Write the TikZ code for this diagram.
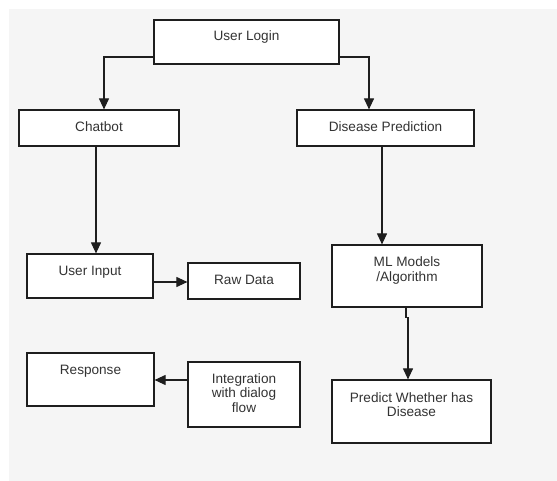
\documentclass[tikz,border=0pt]{standalone}
\usepackage{fontspec}
\setmainfont{Liberation Sans}
\usepackage{xcolor}
\usetikzlibrary{arrows.meta,positioning,calc}
\definecolor{cBack}{RGB}{245,245,245}
\definecolor{cLine}{RGB}{30,30,30}
\definecolor{cText}{RGB}{51,51,51}
\tikzset{
  box/.style={draw=cLine, fill=white, line width=1.2pt, inner sep=0pt,
              align=center, text=cText, text depth=3pt,
              font=\fontsize{13.6}{14.7}\selectfont},
  arr/.style={-{Triangle[length=11pt,width=10pt]}, draw=cLine, line width=1.1pt},
}

\begin{document}
\begin{tikzpicture}[x=1pt, y=-1pt]
  \useasboundingbox (0,0) rectangle (557,481);
  \fill[cBack] (9,9) rectangle (557,481);

  \node[box, minimum width=185pt, minimum height=44pt, text depth=12pt] (ul) at (246.5,42) {User Login};
  \node[box, minimum width=160pt, minimum height=36pt] (cb) at (99,128) {Chatbot};
  \node[box, minimum width=177pt, minimum height=36pt] (dp) at (385.5,128) {Disease Prediction};

  \node[box, minimum width=126pt, minimum height=44pt, text depth=10pt] (ui) at (90,276) {User Input};
  \node[box, minimum width=112pt, minimum height=36pt] (rd) at (244,281) {Raw Data};
  \node[box, minimum width=150pt, minimum height=62pt, text depth=14pt] (ml) at (407,276) {ML Models\\/Algorithm};

  \node[box, minimum width=127pt, minimum height=53pt, text depth=19pt] (rs) at (90.5,379.5) {Response};
  \node[box, minimum width=112pt, minimum height=65pt] (ig) at (244,394.5) {Integration\\with dialog\\flow};
  \node[box, minimum width=159pt, minimum height=63pt, text depth=14pt] (pr) at (411.5,411.5) {Predict Whether has\\Disease};

  \draw[arr] ([yshift=-15pt]ul.west) -| ([xshift=5pt]cb.north);
  \draw[arr] ([yshift=-15pt]ul.east) -| ([xshift=-16.5pt]dp.north);
  \draw[arr] ([xshift=-3pt]cb.south) -- ([xshift=-3pt]cb.south |- ui.north);
  \draw[arr] ([xshift=-3.5pt]dp.south) -- ([xshift=-3.5pt]dp.south |- ml.north);
  \draw[arr] ([yshift=-6pt]ui.east) -- ([yshift=-6pt]ui.east -| rd.west);
  \draw[arr] ([xshift=-1pt]ml.south) -- ++(0,10) -| ([xshift=-3.5pt]pr.north);
  \draw[arr] ([yshift=14.5pt]ig.west) -- ([yshift=14.5pt]ig.west -| rs.east);
\end{tikzpicture}
\end{document}
